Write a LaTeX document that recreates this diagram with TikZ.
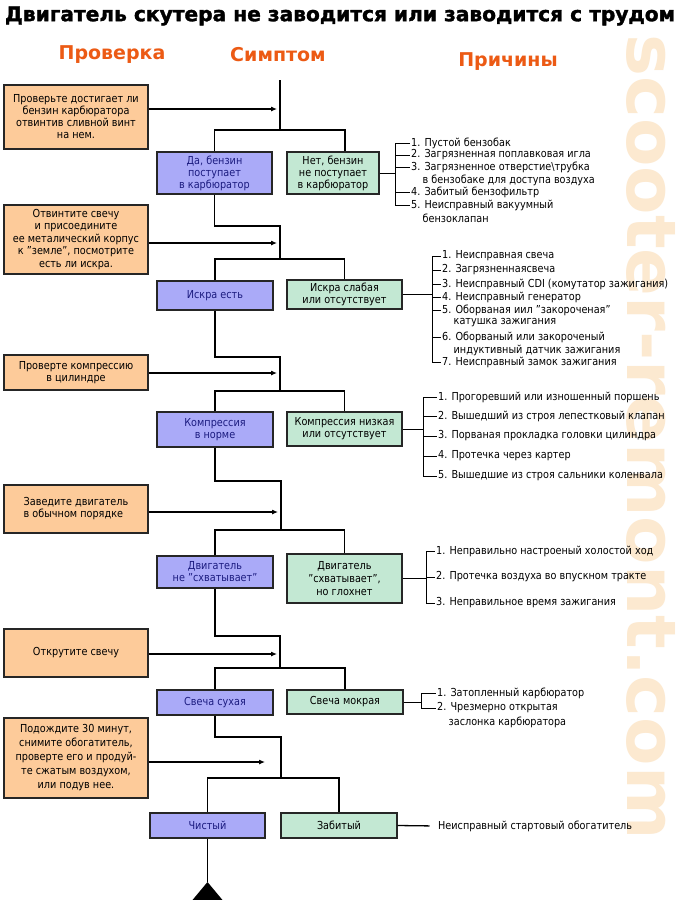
\documentclass[tikz,border=0pt]{standalone}
\usepackage{fontspec}
\setmainfont{DejaVu Sans}[FakeStretch=0.88]
\newfontfamily\hdfont{DejaVu Sans}
\newfontfamily\ttlfont{DejaVu Sans Bold}[FakeBold=1.6]
\usetikzlibrary{arrows.meta}
\definecolor{obg}{HTML}{FDCB9A}
\definecolor{bbg}{HTML}{AAAAF8}
\definecolor{gbg}{HTML}{C3E8D3}
\definecolor{navy}{HTML}{1C1C80}
\definecolor{hdor}{HTML}{EC5A14}
\definecolor{wmark}{HTML}{FCE9D0}
\newcommand\bodyfs{\fontsize{11pt}{12pt}\selectfont}
\begin{document}
\begin{tikzpicture}[x=1pt,y=-1pt,
  box/.style={draw=black!85, line width=1.3pt, inner sep=0pt, align=center, font=\bodyfs},
  obox/.style={box, fill=obg},
  bbox/.style={box, fill=bbg, text=navy},
  gbox/.style={box, fill=gbg},
  flow/.style={line width=1.3pt},
  arr/.style={line width=1.1pt, -{Latex[length=6pt,width=5pt]}},
  br/.style={line width=0.9pt},
  item/.style={anchor=west, inner sep=1.5pt, font=\bodyfs},
  hdr/.style={font=\hdfont\fontsize{19pt}{22pt}\selectfont\bfseries, text=hdor}]
\fill[white] (0,0) rectangle (680,900);
\useasboundingbox (0,0) rectangle (680,900);
% watermark
\node[text=wmark, rotate=-90, inner sep=0pt] (wm) at (651,437) {\resizebox{805pt}{48pt}{\hdfont\bfseries scooter-remont.com}};
% title and headers
\node[inner sep=0pt] (title) at (340,16) {\resizebox{670pt}{!}{\ttlfont Двигатель скутера не заводится или заводится с трудом}};
\node[hdr] (h1) at (112,55) {Проверка};
\node[hdr] (h2) at (278,55) {Симптом};
\node[hdr] (h3) at (508,62) {Причины};
% boxes
\node[obox, minimum width=144, minimum height=64] (o1) at (76,117) {Проверьте достигает ли\\бензин карбюратора\\отвинтив сливной винт\\на нем.};
\node[bbox, minimum width=115, minimum height=42] (b1) at (214.5,173) {Да, бензин\\поступает\\в карбюратор};
\node[gbox, minimum width=92, minimum height=42] (g1) at (333,173) {Нет, бензин\\не поступает\\в карбюратор};
\node[obox, minimum width=144, minimum height=69, font=\fontsize{11pt}{12.5pt}\selectfont] (o2) at (76,239.5) {Отвинтите свечу\\и присоедините\\ее металический корпус\\к "земле", посмотрите\\есть ли искра.};
\node[bbox, minimum width=116, minimum height=29] (b2) at (215,295.5) {Искра есть};
\node[gbox, minimum width=115, minimum height=29] (g2) at (344.5,294.5) {Искра слабая\\или отсутствует};
\node[obox, minimum width=144, minimum height=35] (o3) at (76,372.5) {Проверте компрессию\\в цилиндре};
\node[bbox, minimum width=116, minimum height=35] (b3) at (215,429.5) {Компрессия\\в норме};
\node[gbox, minimum width=115, minimum height=34] (g3) at (344.5,429) {Компрессия низкая\\или отсутствует};
\node[obox, minimum width=144, minimum height=48, align=left] (o4) at (76,509) {Заведите двигатель\\в обычном порядке};
\node[bbox, minimum width=116, minimum height=32] (b4) at (215,572) {Двигатель\\не "схватывает"};
\node[gbox, minimum width=115, minimum height=49, font=\fontsize{11pt}{13pt}\selectfont] (g4) at (344.5,578.5) {Двигатель\\"схватывает",\\но глохнет};
\node[obox, minimum width=144, minimum height=48] (o5) at (76,653) {Открутите свечу};
\node[bbox, minimum width=116, minimum height=25] (b5) at (215,702.5) {Свеча сухая};
\node[gbox, minimum width=116, minimum height=24] (g5) at (345,702) {Свеча мокрая};
\node[obox, minimum width=144, minimum height=80, font=\fontsize{11pt}{14pt}\selectfont] (o6) at (76,758) {Подождите 30 минут,\\снимите обогатитель,\\проверте его и продуй-\\те сжатым воздухом,\\или подув нее.};
\node[bbox, minimum width=115, minimum height=25] (b6) at (207.5,825.5) {Чистый};
\node[gbox, minimum width=116, minimum height=25] (g6) at (339,825.5) {Забитый};
% flow coordinates
\coordinate (top) at (280,80);
\coordinate (a1) at (277,109);
\coordinate (j1) at (280,130);
\coordinate (k2) at (280,226);
\coordinate (a2) at (277,243);
\coordinate (j2) at (280,259);
\coordinate (k3) at (280,357);
\coordinate (a3) at (277,373);
\coordinate (j3) at (280,391);
\coordinate (k4) at (281,481);
\coordinate (a4) at (278,512);
\coordinate (j4) at (281,530);
\coordinate (k5) at (280,636);
\coordinate (a5) at (277,654);
\coordinate (j5) at (280,668);
\coordinate (k6) at (281,737);
\coordinate (a6) at (265,762);
\coordinate (j6) at (281,778);
\coordinate (tri) at (207.5,882);
% flow lines
\draw[flow] (top) -- (j1);
\draw[flow] (b1.north) |- (j1) -| ([xshift=12pt]g1.north);
\draw[arr] (o1.east |- a1) -- (a1);
\draw[flow] (b1.south) |- (k2) -- (j2);
\draw[flow] (b2.north) |- (j2) -| (g2.north);
\draw[arr] (o2.east |- a2) -- (a2);
\draw[flow] (b2.south) |- (k3) -- (j3);
\draw[flow] (b3.north) |- (j3) -| (g3.north);
\draw[arr] (o3.east |- a3) -- (a3);
\draw[flow] (b3.south) |- (k4) -- (j4);
\draw[flow] (b4.north) |- (j4) -| (g4.north);
\draw[arr] (o4.east |- a4) -- (a4);
\draw[flow] (b4.south) |- (k5) -- (j5);
\draw[flow] (b5.north) |- (j5) -| (g5.north);
\draw[arr] (o5.east |- a5) -- (a5);
\draw[flow] (b5.south) |- (k6) -- (j6);
\draw[flow] (b6.north) |- (j6) -| (g6.north);
\draw[arr] (o6.east |- a6) -- (a6);
\draw[flow] (b6.south) -- (tri);
\fill (tri) -- ++(-15,18) -- ++(30,0) -- cycle;
% bracket 1
\coordinate (br1) at (395,0);
\node[item] (c11) at (409.5,143) {1. Пустой бензобак};
\node[item] (c12) at (409.5,155) {2. Загрязненная поплавковая игла};
\node[item] (c13) at (409.5,167) {3. Загрязненное отверстие\textbackslash трубка};
\node[item] (c13b) at (421,180) {в бензобаке для доступа воздуха};
\node[item] (c14) at (409.5,192) {4. Забитый бензофильтр};
\node[item] (c15) at (409.5,205) {5. Неисправный вакуумный};
\node[item] (c15b) at (421,218) {бензоклапан};
\foreach \n in {c11,c12,c13,c14,c15} \draw[br] (\n.west -| br1) -- (\n.west);
\draw[br] (c11.west -| br1) -- (c15.west -| br1);
\draw[br] (g1.east) -- (g1.east -| br1);
% bracket 2
\coordinate (br2) at (432,0);
\node[item] (c21) at (440.5,256) {1. Неисправная свеча};
\node[item] (c22) at (440.5,270) {2. Загрязненнаясвеча};
\node[item] (c23) at (440.5,284) {3. Неисправный CDI (комутатор зажигания)};
\node[item] (c24) at (440.5,297) {4. Неисправный генератор};
\node[item] (c25) at (440.5,310) {5. Оборваная иил "закороченая"};
\node[item] (c25b) at (452,323) {катушка зажигания};
\node[item] (c26) at (440.5,337) {6. Оборваный или закороченый};
\node[item] (c26b) at (452,350) {индуктивный датчик зажигания};
\node[item] (c27) at (440.5,362) {7. Неисправный замок зажигания};
\foreach \n in {c21,c22,c23,c24,c25,c26,c27} \draw[br] (\n.west -| br2) -- (\n.west);
\draw[br] (c21.west -| br2) -- (c27.west -| br2);
\draw[br] (g2.east) -- (g2.east -| br2);
% bracket 3
\coordinate (br3) at (423,0);
\node[item] (c31) at (436.5,397) {1. Прогоревший или изношенный поршень};
\node[item] (c32) at (436.5,416) {2. Вышедший из строя лепестковый клапан};
\node[item] (c33) at (436.5,436) {3. Порваная прокладка головки цилиндра};
\node[item] (c34) at (436.5,456) {4. Протечка через картер};
\node[item] (c35) at (436.5,476) {5. Вышедшие из строя сальники коленвала};
\foreach \n in {c31,c32,c33,c34,c35} \draw[br] (\n.west -| br3) -- (\n.west);
\draw[br] (c31.west -| br3) -- (c35.west -| br3);
\draw[br] (g3.east) -- (g3.east -| br3);
% bracket 4
\coordinate (br4) at (426,0);
\node[item] (c41) at (434.5,551) {1. Неправильно настроеный холостой ход};
\node[item] (c42) at (434.5,577) {2. Протечка воздуха во впускном тракте};
\node[item] (c43) at (434.5,603) {3. Неправильное время зажигания};
\foreach \n in {c41,c42,c43} \draw[br] (\n.west -| br4) -- (\n.west);
\draw[br] (c41.west -| br4) -- (c43.west -| br4);
\draw[br] (g4.east) -- (g4.east -| br4);
% bracket 5
\coordinate (br5) at (421,0);
\node[item] (c51) at (435.5,693) {1. Затопленный карбюратор};
\node[item] (c52) at (435.5,708) {2. Чрезмерно открытая};
\node[item] (c52b) at (447,722) {заслонка карбюратора};
\foreach \n in {c51,c52} \draw[br] (\n.west -| br5) -- (\n.west);
\draw[br] (c51.west -| br5) -- (c52.west -| br5);
\draw[br] (g5.east) -- (g5.east -| br5);
% last cause
\node[item] (c6) at (436.5,826) {Неисправный стартовый обогатитель};
\draw[flow, shorten >=7pt] (g6.east) -- (c6.west);
\end{tikzpicture}
\end{document}
